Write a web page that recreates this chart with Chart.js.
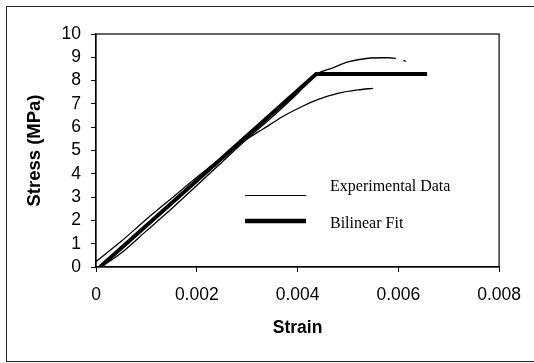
<!DOCTYPE html>
<html><head><meta charset="utf-8">
<script src="https://cdn.jsdelivr.net/npm/chart.js@4/dist/chart.umd.min.js"></script>
<style>
html,body{margin:0;padding:0;background:#fff;}
#wrap{position:relative;width:534px;height:363px;overflow:hidden;}
#frame{position:absolute;left:6px;top:6px;width:540px;height:354px;border:1px solid #222;}
canvas{position:absolute;left:0;top:0;}
</style></head>
<body><div id="wrap"><div id="frame"></div><canvas id="c" width="534" height="363"></canvas></div>
<script>
// Experimental curve 1 (softening, ends ~7.7 MPa)
const exp1Strain = [0, 0.0005, 0.001, 0.0015, 0.002, 0.0025, 0.003, 0.0033, 0.0037, 0.0041, 0.0044, 0.0048, 0.0052, 0.0055];
const exp1Stress = [0.23, 1.1, 2.05, 2.95, 3.85, 4.7, 5.5, 5.9, 6.45, 6.9, 7.18, 7.45, 7.6, 7.67];
// Experimental curve 2 (peaks ~9 MPa)
const exp2Strain = [0.0001, 0.0005, 0.001, 0.0015, 0.002, 0.0025, 0.003, 0.0035, 0.004, 0.0042, 0.0044, 0.0047, 0.005, 0.0054, 0.0058, 0.00595, null, 0.0061, 0.00615];
const exp2Stress = [0, 0.6, 1.55, 2.5, 3.5, 4.5, 5.5, 6.45, 7.45, 7.9, 8.3, 8.55, 8.8, 8.96, 8.98, 8.95, null, 8.86, 8.83];
// Bilinear fit
const fitStrain = [0.00008, 0.00437, 0.00657];
const fitStress = [0, 8.28, 8.28];
const xTicks = [0, 0.002, 0.004, 0.006, 0.008];
const yTicks = [0,1,2,3,4,5,6,7,8,9,10];
const legendLabels = ["Experimental Data", "Bilinear Fit"];

function pts(xs, ys){ return xs.map((x,i)=> x===null ? {x:NaN,y:null} : {x:x, y:ys[i]}); }

const legendPlugin = {
  id:'customLegend',
  afterDraw(chart){
    const ctx = chart.ctx;
    const a = chart.chartArea;
    ctx.save();
    ctx.strokeStyle='#000'; ctx.lineWidth=1.2;
    ctx.strokeRect(a.left, a.top, a.right-a.left, a.bottom-a.top);
    ctx.fillStyle='#000';
    ctx.font='16px "Liberation Serif", "Times New Roman", serif';
    ctx.textBaseline='middle'; ctx.textAlign='left';
    ctx.beginPath(); ctx.lineWidth=1.2; ctx.moveTo(245,195.5); ctx.lineTo(306,195.5); ctx.stroke();
    ctx.fillText(legendLabels[0], 330, 187);
    ctx.beginPath(); ctx.lineWidth=4.5; ctx.moveTo(245,221); ctx.lineTo(306,221); ctx.stroke();
    ctx.fillText(legendLabels[1], 330, 223.5);
    ctx.restore();
  }
};

const sans = '"Liberation Sans", Arial, sans-serif';
new Chart(document.getElementById('c'), {
  type:'scatter',
  data:{datasets:[
    {data:pts(exp1Strain,exp1Stress), showLine:true, borderColor:'#000', borderWidth:1.3, pointRadius:0, tension:0.3, spanGaps:false},
    {data:pts(exp2Strain,exp2Stress), showLine:true, borderColor:'#000', borderWidth:1.3, pointRadius:0, tension:0.3, spanGaps:false},
    {data:pts(fitStrain,fitStress), showLine:true, borderColor:'#000', borderWidth:4, pointRadius:0, tension:0}
  ]},
  options:{
    responsive:false, animation:false, devicePixelRatio:1,
    layout:{padding:{left:0,right:34,top:34,bottom:0}},
    plugins:{legend:{display:false}, tooltip:{enabled:false}},
    scales:{
      x:{type:'linear', min:0, max:0.008,
        afterBuildTicks(s){ s.ticks = xTicks.map(v=>({value:v})); },
        afterFit(s){ s.height = 96; },
        grid:{drawOnChartArea:false, drawTicks:true, tickLength:5, color:'#000'},
        border:{display:true,color:'#000',width:1.2},
        ticks:{color:'#000', padding:13, maxRotation:0, autoSkip:false, font:{family:sans, size:17.5},
          callback:(v)=> v===0 ? '0' : v.toFixed(3)},
        title:{display:true, text:'Strain', color:'#000', padding:{top:0,bottom:24.5}, font:{family:sans, size:17.5, weight:'bold'}}
      },
      y:{type:'linear', min:0, max:10,
        afterBuildTicks(s){ s.ticks = yTicks.map(v=>({value:v})); },
        afterFit(s){ s.width = 96; },
        grid:{drawOnChartArea:false, drawTicks:true, tickLength:5, color:'#000'},
        border:{display:true,color:'#000',width:1.2},
        ticks:{color:'#000', padding:10, autoSkip:false, font:{family:sans, size:17.5}},
        title:{display:true, text:'Stress (MPa)', color:'#000', padding:{top:24,bottom:0}, font:{family:sans, size:18.5, weight:'bold'}}
      }
    }
  },
  plugins:[legendPlugin]
});
</script></body></html>
